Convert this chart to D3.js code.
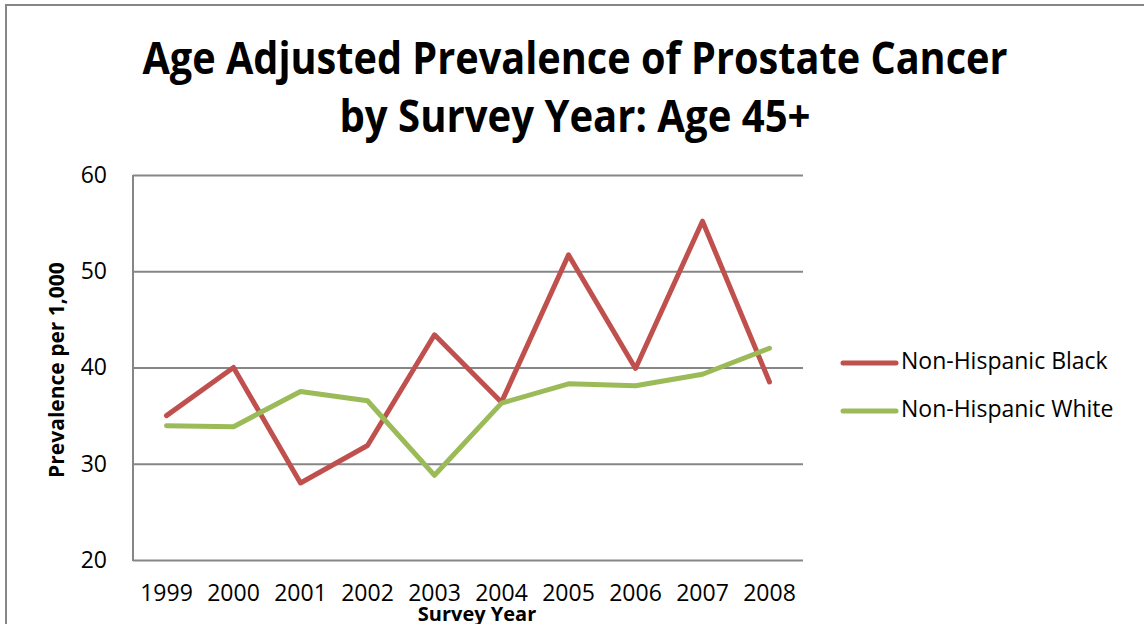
<!DOCTYPE html>
<html>
<head>
<meta charset="utf-8">
<script src="https://cdn.jsdelivr.net/npm/d3@7"></script>
<style>
  body { margin: 0; background: #fff; }
  text { font-family: "Open Sans", sans-serif; fill: #000; }
</style>
</head>
<body>
<div id="canvas"></div>
<script>
"use strict"
let svgWidth = 1144;
let svgHeight = 624;

let marginLeft = 133;
let marginRight = 341;
let marginTop = 175;
let marginBottom = 64;

let years = ["1999","2000","2001","2002","2003","2004","2005","2006","2007","2008"];
let blackValues = [35.0, 40.0, 28.0, 31.9, 43.4, 36.4, 51.7, 39.9, 55.2, 38.5];
let whiteValues = [33.95, 33.85, 37.5, 36.55, 28.8, 36.3, 38.3, 38.1, 39.3, 42.0];
let seriesNames = ["Non-Hispanic Black", "Non-Hispanic White"];
let seriesColors = ["#C0504D", "#9BBB59"];
let yTicks = [20, 30, 40, 50, 60];

let svg = d3.select("#canvas")
    .append("svg")
    .attr("width", svgWidth)
    .attr("height", svgHeight);

// outer chart border (runs off the right and bottom edge)
svg.append("rect")
    .attr("x", 6)
    .attr("y", 5)
    .attr("width", 1200)
    .attr("height", 700)
    .attr("fill", "none")
    .attr("stroke", "#868686")
    .attr("stroke-width", 2);

let xScale = d3.scaleBand()
    .domain(years)
    .range([marginLeft, svgWidth - marginRight]);

let yScale = d3.scaleLinear()
    .domain([20, 60])
    .range([svgHeight - marginBottom, marginTop]);

// gridlines + y labels
let yAxis = svg.append("g")
    .attr("transform", "translate(" + marginLeft + ",0)")
    .call(d3.axisLeft(yScale)
        .tickValues(yTicks)
        .tickSize(-(svgWidth - marginRight - marginLeft))
        .tickPadding(26));
yAxis.select(".domain").remove();
yAxis.selectAll("line")
    .attr("stroke", "#868686")
    .attr("stroke-width", 2);
yAxis.selectAll("text")
    .attr("font-size", 23)
    .attr("font-family", "Open Sans");

svg.append("line")
    .attr("x1", marginLeft)
    .attr("x2", marginLeft)
    .attr("y1", marginTop)
    .attr("y2", svgHeight - marginBottom + 1)
    .attr("stroke", "#868686")
    .attr("stroke-width", 2);

// x labels
let xAxis = svg.append("g")
    .attr("transform", "translate(0," + (svgHeight - marginBottom) + ")")
    .call(d3.axisBottom(xScale).tickSize(0).tickPadding(25));
xAxis.select(".domain").remove();
xAxis.selectAll("text")
    .attr("font-size", 23)
    .attr("font-family", "Open Sans");

let line = d3.line()
    .x(function(d, i) { return xScale(years[i]) + xScale.bandwidth() / 2; })
    .y(function(d) { return yScale(d); });

let allSeries = [blackValues, whiteValues];
for (let i = 0; i < allSeries.length; i++) {
    svg.append("path")
        .datum(allSeries[i])
        .attr("d", line)
        .attr("fill", "none")
        .attr("stroke", seriesColors[i])
        .attr("stroke-width", 5)
        .attr("stroke-linejoin", "round")
        .attr("stroke-linecap", "round");
}

// legend
for (let i = 0; i < seriesNames.length; i++) {
    let y = 363 + i * 48;
    svg.append("line")
        .attr("x1", 843)
        .attr("x2", 896)
        .attr("y1", y)
        .attr("y2", y)
        .attr("stroke", seriesColors[i])
        .attr("stroke-width", 5)
        .attr("stroke-linecap", "round");
    svg.append("text")
        .attr("x", 901)
        .attr("y", y)
        .attr("dominant-baseline", "middle")
        .attr("font-size", 23)
        .text(seriesNames[i]);
}

// title (squeezed a bit, the original font is narrower)
let titleLines = ["Age Adjusted Prevalence of Prostate Cancer", "by Survey Year: Age 45+"];
let titleWidths = [865, 471];
for (let i = 0; i < titleLines.length; i++) {
    svg.append("text")
        .attr("x", 575)
        .attr("y", 74 + i * 58)
        .attr("text-anchor", "middle")
        .attr("font-weight", "bold")
        .attr("font-size", 44)
        .attr("textLength", titleWidths[i])
        .attr("lengthAdjust", "spacingAndGlyphs")
        .text(titleLines[i]);
}

svg.append("text")
    .attr("transform", "translate(64,370) rotate(-90)")
    .attr("text-anchor", "middle")
    .attr("font-weight", "bold")
    .attr("font-size", 21)
    .text("Prevalence per 1,000");

svg.append("text")
    .attr("x", 477)
    .attr("y", 621)
    .attr("text-anchor", "middle")
    .attr("font-weight", "bold")
    .attr("font-size", 20)
    .text("Survey Year");
</script>
</body>
</html>
